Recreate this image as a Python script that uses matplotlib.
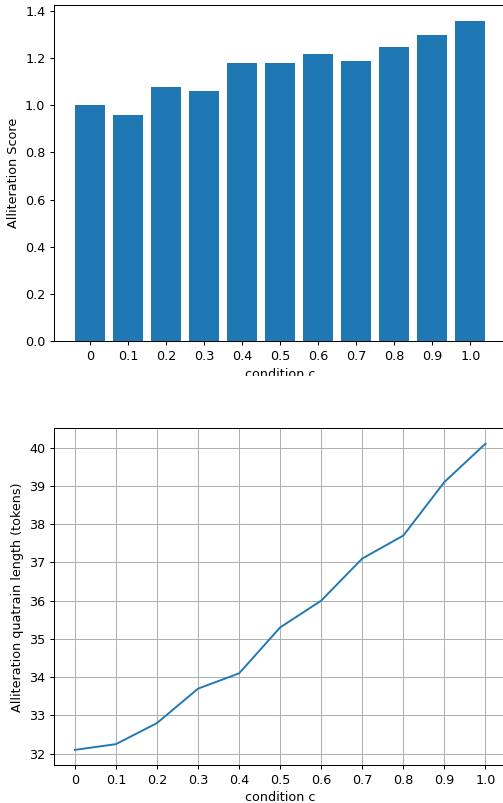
import matplotlib
matplotlib.use("Agg")
import matplotlib.pyplot as plt
from matplotlib.patches import Rectangle

# condition values (shown as tick labels)
conditions = ["0", "0.1", "0.2", "0.3", "0.4", "0.5", "0.6", "0.7", "0.8", "0.9", "1.0"]

# alliteration score per condition (bar chart)
scores = [1.00, 0.96, 1.08, 1.06, 1.18, 1.18, 1.22, 1.19, 1.25, 1.30, 1.36]

# average quatrain length in tokens (line chart)
lengths = [32.1, 32.25, 32.8, 33.7, 34.1, 35.3, 36.0, 37.1, 37.7, 39.1, 40.1]

W, H = 503, 803
DPI = 91.5  # original looks rendered a bit larger and scaled down
fig = plt.figure(figsize=(W / DPI, H / DPI), dpi=DPI)

# axes placed in pixel terms; right edges run slightly past the figure (cropped look)
left, width = 54.3, 451.7
ax1 = fig.add_axes([left / W, (H - 340.7) / H, width / W, 336.0 / H])
ax2 = fig.add_axes([left / W, (H - 765.2) / H, width / W, 336.8 / H])

# Top: bar chart of alliteration score
pos = list(range(len(conditions)))
ax1.bar(pos, scores, color="#1f77b4")
ax1.set_xticks(pos)
ax1.set_xticklabels(conditions)
ax1.set_xlabel("condition c")
ax1.set_ylabel("Alliteration Score")

# Bottom: line chart of quatrain length
ax2.plot(pos, lengths, color="#1f77b4")
ax2.set_xticks(pos)
ax2.set_xticklabels(conditions)
ax2.set_xlabel("condition c", labelpad=2.8)
ax2.set_ylabel("Alliteration quatrain length (tokens)")
ax2.grid(True)

# the top panel's x label is cut off in the original image
fig.patches.append(Rectangle((0, (H - 427) / H), 1, (427 - 376) / H,
                             transform=fig.transFigure, facecolor="white",
                             edgecolor="none", zorder=10))

fig.savefig("out.png", dpi=DPI)
